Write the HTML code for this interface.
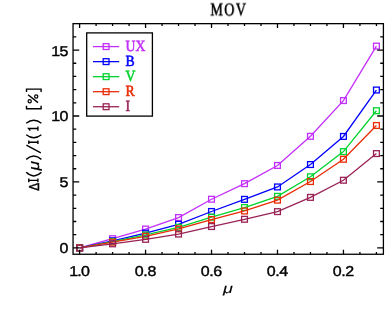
<!DOCTYPE html>
<html><head><meta charset="utf-8"><title>MOV</title>
<style>
html,body{margin:0;padding:0;background:#fff;}
body{width:387px;height:309px;overflow:hidden;font-family:"Liberation Sans",sans-serif;}
svg{display:block;will-change:transform;}
.t{font-family:"Liberation Sans",sans-serif;fill:#000;stroke:#000;stroke-width:0.4px;text-rendering:geometricPrecision;}
.s{font-family:"Liberation Serif",serif;stroke-width:0.55px;text-rendering:geometricPrecision;}
</style></head><body>
<svg width="387" height="309" viewBox="0 0 387 309">
<g stroke="#c22ffb" stroke-width="1.30" fill="none">
<polyline points="79.60,247.90 112.58,238.67 145.56,229.04 178.54,217.56 211.52,199.23 244.50,183.66 277.48,165.46 310.46,136.31 343.44,100.57 376.42,46.09"/>
<rect x="76.70" y="245.00" width="5.80" height="5.80"/><rect x="109.68" y="235.77" width="5.80" height="5.80"/><rect x="142.66" y="226.14" width="5.80" height="5.80"/><rect x="175.64" y="214.66" width="5.80" height="5.80"/><rect x="208.62" y="196.33" width="5.80" height="5.80"/><rect x="241.60" y="180.76" width="5.80" height="5.80"/><rect x="274.58" y="162.56" width="5.80" height="5.80"/><rect x="307.56" y="133.41" width="5.80" height="5.80"/><rect x="340.54" y="97.67" width="5.80" height="5.80"/><rect x="373.52" y="43.19" width="5.80" height="5.80"/>
</g>
<g stroke="#0000ff" stroke-width="1.30" fill="none">
<polyline points="79.60,247.90 112.58,240.78 145.56,233.13 178.54,224.29 211.52,211.50 244.50,199.36 277.48,186.96 310.46,164.54 343.44,136.44 376.42,90.02"/>
<rect x="76.70" y="245.00" width="5.80" height="5.80"/><rect x="109.68" y="237.88" width="5.80" height="5.80"/><rect x="142.66" y="230.23" width="5.80" height="5.80"/><rect x="175.64" y="221.39" width="5.80" height="5.80"/><rect x="208.62" y="208.60" width="5.80" height="5.80"/><rect x="241.60" y="196.46" width="5.80" height="5.80"/><rect x="274.58" y="184.06" width="5.80" height="5.80"/><rect x="307.56" y="161.64" width="5.80" height="5.80"/><rect x="340.54" y="133.54" width="5.80" height="5.80"/><rect x="373.52" y="87.12" width="5.80" height="5.80"/>
</g>
<g stroke="#00d22e" stroke-width="1.30" fill="none">
<polyline points="79.60,247.90 112.58,241.57 145.56,234.97 178.54,227.32 211.52,217.17 244.50,207.54 277.48,196.33 310.46,176.81 343.44,151.61 376.42,110.72"/>
<rect x="76.70" y="245.00" width="5.80" height="5.80"/><rect x="109.68" y="238.67" width="5.80" height="5.80"/><rect x="142.66" y="232.07" width="5.80" height="5.80"/><rect x="175.64" y="224.42" width="5.80" height="5.80"/><rect x="208.62" y="214.27" width="5.80" height="5.80"/><rect x="241.60" y="204.64" width="5.80" height="5.80"/><rect x="274.58" y="193.43" width="5.80" height="5.80"/><rect x="307.56" y="173.91" width="5.80" height="5.80"/><rect x="340.54" y="148.71" width="5.80" height="5.80"/><rect x="373.52" y="107.82" width="5.80" height="5.80"/>
</g>
<g stroke="#e92c08" stroke-width="1.30" fill="none">
<polyline points="79.60,247.90 112.58,242.10 145.56,236.29 178.54,228.91 211.52,219.54 244.50,210.97 277.48,200.15 310.46,181.55 343.44,159.26 376.42,125.50"/>
<rect x="76.70" y="245.00" width="5.80" height="5.80"/><rect x="109.68" y="239.20" width="5.80" height="5.80"/><rect x="142.66" y="233.39" width="5.80" height="5.80"/><rect x="175.64" y="226.01" width="5.80" height="5.80"/><rect x="208.62" y="216.64" width="5.80" height="5.80"/><rect x="241.60" y="208.07" width="5.80" height="5.80"/><rect x="274.58" y="197.25" width="5.80" height="5.80"/><rect x="307.56" y="178.65" width="5.80" height="5.80"/><rect x="340.54" y="156.36" width="5.80" height="5.80"/><rect x="373.52" y="122.60" width="5.80" height="5.80"/>
</g>
<g stroke="#992255" stroke-width="1.30" fill="none">
<polyline points="79.60,247.90 112.58,243.81 145.56,239.33 178.54,234.05 211.52,226.53 244.50,219.28 277.48,211.63 310.46,197.38 343.44,180.24 376.42,153.59"/>
<rect x="76.70" y="245.00" width="5.80" height="5.80"/><rect x="109.68" y="240.91" width="5.80" height="5.80"/><rect x="142.66" y="236.43" width="5.80" height="5.80"/><rect x="175.64" y="231.15" width="5.80" height="5.80"/><rect x="208.62" y="223.63" width="5.80" height="5.80"/><rect x="241.60" y="216.38" width="5.80" height="5.80"/><rect x="274.58" y="208.73" width="5.80" height="5.80"/><rect x="307.56" y="194.48" width="5.80" height="5.80"/><rect x="340.54" y="177.34" width="5.80" height="5.80"/><rect x="373.52" y="150.69" width="5.80" height="5.80"/>
</g>
<g stroke="#000" stroke-width="1.30" fill="none">
<rect x="73.05" y="23.65" width="310.35" height="230.60"/>
<path d="M79.60 254.25v-4.40M79.60 23.65v4.40M96.09 254.25v-2.30M96.09 23.65v2.30M112.58 254.25v-2.30M112.58 23.65v2.30M129.07 254.25v-2.30M129.07 23.65v2.30M145.56 254.25v-4.40M145.56 23.65v4.40M162.05 254.25v-2.30M162.05 23.65v2.30M178.54 254.25v-2.30M178.54 23.65v2.30M195.03 254.25v-2.30M195.03 23.65v2.30M211.52 254.25v-4.40M211.52 23.65v4.40M228.01 254.25v-2.30M228.01 23.65v2.30M244.50 254.25v-2.30M244.50 23.65v2.30M260.99 254.25v-2.30M260.99 23.65v2.30M277.48 254.25v-4.40M277.48 23.65v4.40M293.97 254.25v-2.30M293.97 23.65v2.30M310.46 254.25v-2.30M310.46 23.65v2.30M326.95 254.25v-2.30M326.95 23.65v2.30M343.44 254.25v-4.40M343.44 23.65v4.40M359.93 254.25v-2.30M359.93 23.65v2.30M376.42 254.25v-2.30M376.42 23.65v2.30M73.05 247.90h6.20M383.40 247.90h-6.20M73.05 234.71h3.20M383.40 234.71h-3.20M73.05 221.52h3.20M383.40 221.52h-3.20M73.05 208.33h3.20M383.40 208.33h-3.20M73.05 195.14h3.20M383.40 195.14h-3.20M73.05 181.95h6.20M383.40 181.95h-6.20M73.05 168.76h3.20M383.40 168.76h-3.20M73.05 155.57h3.20M383.40 155.57h-3.20M73.05 142.38h3.20M383.40 142.38h-3.20M73.05 129.19h3.20M383.40 129.19h-3.20M73.05 116.00h6.20M383.40 116.00h-6.20M73.05 102.81h3.20M383.40 102.81h-3.20M73.05 89.62h3.20M383.40 89.62h-3.20M73.05 76.43h3.20M383.40 76.43h-3.20M73.05 63.24h3.20M383.40 63.24h-3.20M73.05 50.05h6.20M383.40 50.05h-6.20M73.05 36.86h3.20M383.40 36.86h-3.20"/>
</g>
<rect x="86.70" y="32.90" width="65.70" height="83.20" fill="#fff" stroke="#000" stroke-width="1.30"/>
<g stroke="#c22ffb" stroke-width="1.30" fill="none"><path d="M93 46.60H119.2"/><rect x="103.20" y="43.70" width="5.80" height="5.80"/></g>
<text class="s" x="125.6" y="50.70" font-size="15.6" fill="#c22ffb" stroke="#c22ffb" transform="translate(125.6 0) scale(0.88 1) translate(-125.6 0)">UX</text>
<g stroke="#0000ff" stroke-width="1.30" fill="none"><path d="M93 61.63H119.2"/><rect x="103.20" y="58.73" width="5.80" height="5.80"/></g>
<text class="s" x="125.6" y="65.73" font-size="15.6" fill="#0000ff" stroke="#0000ff" transform="translate(125.6 0) scale(0.88 1) translate(-125.6 0)">B</text>
<g stroke="#00d22e" stroke-width="1.30" fill="none"><path d="M93 76.66H119.2"/><rect x="103.20" y="73.76" width="5.80" height="5.80"/></g>
<text class="s" x="125.6" y="80.76" font-size="15.6" fill="#00d22e" stroke="#00d22e" transform="translate(125.6 0) scale(0.88 1) translate(-125.6 0)">V</text>
<g stroke="#e92c08" stroke-width="1.30" fill="none"><path d="M93 91.69H119.2"/><rect x="103.20" y="88.79" width="5.80" height="5.80"/></g>
<text class="s" x="125.6" y="95.79" font-size="15.6" fill="#e92c08" stroke="#e92c08" transform="translate(125.6 0) scale(0.88 1) translate(-125.6 0)">R</text>
<g stroke="#992255" stroke-width="1.30" fill="none"><path d="M93 106.72H119.2"/><rect x="103.20" y="103.82" width="5.80" height="5.80"/></g>
<text class="s" x="125.6" y="110.82" font-size="15.6" fill="#992255" stroke="#992255" transform="translate(125.6 0) scale(0.88 1) translate(-125.6 0)">I</text>
<text class="s" font-size="18.2" letter-spacing="1.9" fill="#000" stroke="#000" transform="translate(210.4 15.4) scale(0.77 1)">MOV</text>
<text class="t" font-size="14.3" letter-spacing="-0.35" text-anchor="end" transform="translate(68.11 253.35) scale(1.12 1)">0</text>
<text class="t" font-size="14.3" letter-spacing="-0.35" text-anchor="end" transform="translate(68.11 187.40) scale(1.12 1)">5</text>
<text class="t" font-size="14.3" letter-spacing="-0.60" text-anchor="end" transform="translate(67.83 121.45) scale(1.12 1)">10</text>
<text class="t" font-size="14.3" letter-spacing="-0.60" text-anchor="end" transform="translate(67.83 55.50) scale(1.12 1)">15</text>
<text class="t" font-size="14.3" letter-spacing="-0.65" text-anchor="middle" transform="translate(79.24 275.6) scale(1.12 1)">1.0</text>
<text class="t" font-size="14.3" letter-spacing="-0.35" text-anchor="middle" transform="translate(145.36 275.6) scale(1.12 1)">0.8</text>
<text class="t" font-size="14.3" letter-spacing="-0.35" text-anchor="middle" transform="translate(211.32 275.6) scale(1.12 1)">0.6</text>
<text class="t" font-size="14.3" letter-spacing="-0.35" text-anchor="middle" transform="translate(277.28 275.6) scale(1.12 1)">0.4</text>
<text class="t" font-size="14.3" letter-spacing="-0.35" text-anchor="middle" transform="translate(343.24 275.6) scale(1.12 1)">0.2</text>
<text class="t" font-size="13.4" font-style="italic" text-anchor="middle" style="stroke-width:0.1px" transform="translate(228.0 293.2) scale(1.34 1)">μ</text>
<g transform="translate(38.5 190.5) rotate(-90)">
<g stroke="#000" stroke-width="1.40" fill="none">
<circle cx="89.3" cy="-8.8" r="1.6" stroke-width="1.25"/><circle cx="94.1" cy="-2.3" r="1.6" stroke-width="1.25"/>
<path d="M8.30 -0.6H11.90M8.30 -9.7H11.90M10.10 -0.6V-9.7M18.20 -12.3Q11.00 -4.7 18.20 2.9M31.10 -12.3Q37.70 -4.7 31.10 2.9M37.6 2.3L45.3 -12.1M46.60 -0.6H50.00M46.60 -9.7H50.00M48.30 -0.6V-9.7M55.80 -12.3Q49.80 -4.7 55.80 2.9M59.8 -0.6H64.1M62 -0.6V-9.9L59.9 -8.2M67.20 -12.3Q73.20 -4.7 67.20 2.9M84.7 -12H81.7V2.6H84.7M98.5 -12H101.4V2.6H98.5M87.9 -0.5L95.7 -10.45"/>
</g>
<text class="t" font-size="14.4" style="stroke-width:0.55px" transform="translate(-0.3 0) scale(0.82 1)">Δ</text>
<text class="t" font-size="15" font-style="italic" style="stroke-width:0.25px" transform="translate(20.1 0) scale(1.15 1)">μ</text>
</g>
</svg>
</body></html>
